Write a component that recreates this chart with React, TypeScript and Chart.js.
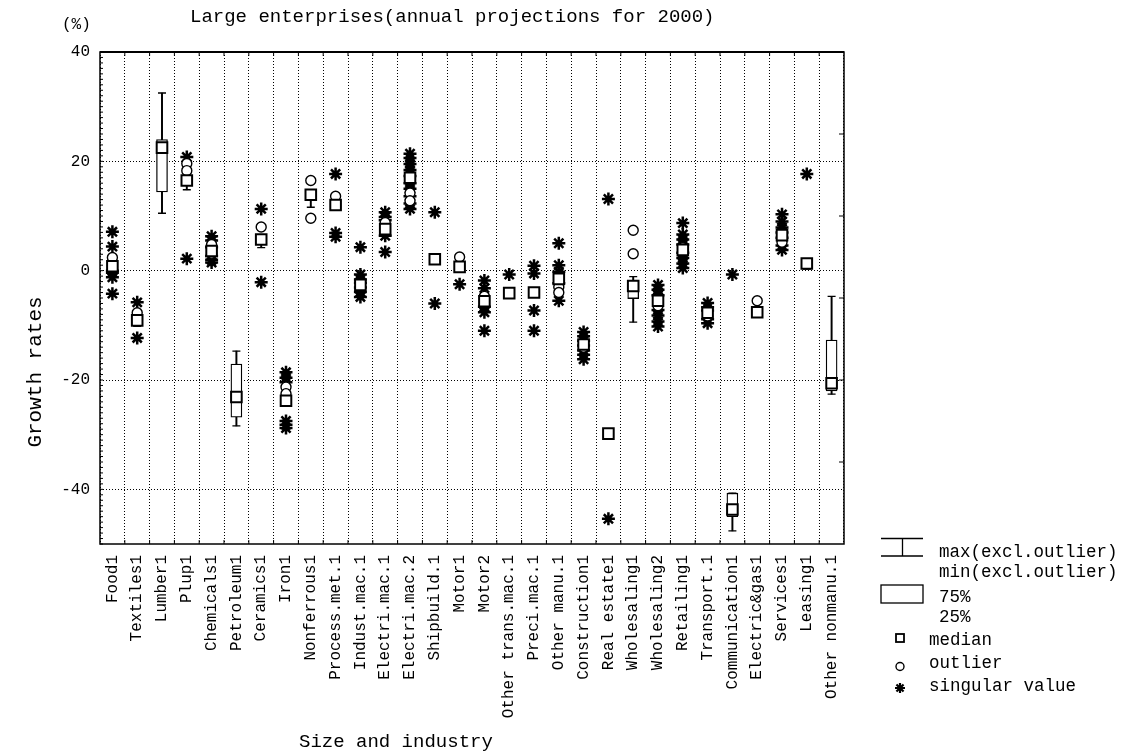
import { useEffect, useRef } from 'react'
import { Chart, registerables } from 'chart.js'

Chart.register(...registerables)

const categories = [
  'Food1', 'Textiles1', 'Lumber1', 'Plup1', 'Chemicals1', 'Petroleum1', 'Ceramics1', 'Iron1',
  'Nonferrous1', 'Process.met.1', 'Indust.mac.1', 'Electri.mac.1', 'Electri.mac.2', 'Shipbuild.1',
  'Motor1', 'Motor2', 'Other trans.mac.1', 'Preci.mac.1', 'Other manu.1', 'Construction1',
  'Real estate1', 'Wholesaling1', 'Wholesaling2', 'Retailing1', 'Transport.1', 'Communication1',
  'Electric&gas1', 'Services1', 'Leasing1', 'Other nonmanu.1',
]

const medians = [
  0.8, -9.1, 22.5, 16.5, 3.6, -23.1, 5.7, -23.8, 13.9, 12.0, -2.6, 7.6, 17.0, 2.1, 0.7,
  -5.6, -4.1, -4.0, -1.5, -13.5, -29.8, -2.8, -5.5, 3.8, -7.7, -43.7, -7.6, 6.5, 1.3, -20.6,
]

// 25% / 75% box edges (null = no box)
const boxLow = [
  null, -9.8, 14.4, 15.8, null, -26.8, 5.0, null, 13.0, 11.2, null, null, null, null, null,
  null, null, null, null, null, null, -5.1, null, null, null, -45.0, null, null, 0.8, -22.0,
]
const boxHigh = [
  null, -8.6, 24.0, 17.2, null, -17.1, 6.4, null, 14.8, 12.8, null, null, null, null, null,
  null, null, null, null, null, null, -1.8, null, null, null, -40.7, null, null, 1.8, -12.7,
]

// min / max excluding outliers
const whiskerLow = [
  null, -10.2, 10.5, 14.8, null, -28.4, 4.2, null, 11.6, null, null, null, null, null, null,
  null, null, null, null, null, null, -9.4, null, null, null, -47.6, null, null, 0.3, -22.6,
]
const whiskerHigh = [
  null, -8.6, 32.5, 17.2, null, -14.7, 6.4, null, 14.8, null, null, null, null, null, null,
  null, null, null, null, null, null, -1.1, null, null, null, -40.7, null, null, 1.8, -4.7,
]

const outliers: number[][] = [
  [2.4], [-7.7], [], [19.6, 18.3], [4.8, 3.2], [], [8.0], [-21.3, -22.5], [16.5, 9.6], [13.6],
  [], [8.8], [14.2, 12.8], [], [2.5], [-4.7], [], [], [-3.0, -4.0], [-14.0],
  [], [7.4, 3.1], [-6.4], [4.2], [-8.3], [], [-5.5], [5.2], [], [],
]

const singulars: number[][] = [
  [7.1, 4.4, 0.0, -0.4, -1.2, -4.2],
  [-5.8, -12.3],
  [],
  [20.8, 2.2],
  [6.3, 5.5, 4.3, 2.7, 2.0, 1.5],
  [],
  [11.3, -2.1],
  [-18.6, -19.6, -20.4, -27.5, -28.2, -28.8],
  [],
  [17.7, 6.9, 6.2],
  [4.3, -0.7, -1.6, -2.2, -3.1, -3.9, -4.8],
  [10.7, 9.8, 9.2, 6.4, 3.4],
  [21.4, 20.6, 19.5, 18.4, 17.3, 16.0, 15.0, 13.6, 12.3, 11.3],
  [10.7, -6.0],
  [-2.5],
  [-1.8, -3.2, -6.6, -7.6, -11.0],
  [-0.7],
  [0.9, -0.5, -7.3, -11.0],
  [5.0, 1.0, -0.2, -2.3, -5.5],
  [-11.2, -12.0, -12.8, -13.7, -14.6, -15.4, -16.2],
  [13.1, -45.4],
  [],
  [-2.6, -3.5, -4.5, -7.2, -8.2, -9.3, -10.2],
  [8.7, 6.6, 5.7, 4.8, 3.3, 2.3, 1.3, 0.5],
  [-5.9, -6.7, -7.3, -8.9, -9.6],
  [-0.7],
  [],
  [10.3, 9.0, 7.9, 7.0, 6.0, 4.6, 3.8],
  [17.7],
  [],
]

const yTickValues = [-40, -20, 0, 20, 40]
const rightTickValues = [-35, -20, -5, 10, 25]

const MONO = '"Liberation Mono", "Courier New", monospace'

const pairs = (lo: (number | null)[], hi: (number | null)[]) =>
  lo.map((v, i) => (v == null || hi[i] == null ? null : [v, hi[i] as number]))

const points = (groups: number[][]) =>
  groups.flatMap((vals, i) => vals.map((v) => ({ x: categories[i], y: v })))

const singlePoints = (vals: (number | null)[]) =>
  vals.flatMap((v, i) => (v == null ? [] : [{ x: categories[i], y: v }]))

const decorPlugin = {
  id: 'decor',
  afterDraw(chart: Chart) {
    const { ctx, chartArea: a } = chart
    const y = chart.scales.y
    const x = chart.scales.x
    ctx.save()
    ctx.strokeStyle = '#000'
    ctx.fillStyle = '#000'

    // frame
    ctx.lineWidth = 1.5
    ctx.strokeRect(a.left, a.top, a.right - a.left, a.bottom - a.top)
    ctx.lineWidth = 2.2
    ctx.beginPath()
    ctx.moveTo(a.left, a.top)
    ctx.lineTo(a.right, a.top)
    ctx.stroke()

    // minor ticks
    ctx.lineWidth = 1
    ctx.beginPath()
    for (let v = -50; v <= 40; v += 1) {
      const py = y.getPixelForValue(v)
      ctx.moveTo(a.left, py)
      ctx.lineTo(a.left + 3, py)
    }
    for (const v of rightTickValues) {
      const py = y.getPixelForValue(v)
      ctx.moveTo(a.right, py)
      ctx.lineTo(a.right - 5, py)
    }
    const step = (a.right - a.left) / categories.length
    for (let i = 1; i < categories.length; i++) {
      const px = x.left + step * i
      ctx.moveTo(px, a.bottom)
      ctx.lineTo(px, a.bottom - 4)
      ctx.moveTo(px, a.top)
      ctx.lineTo(px, a.top + 4)
    }
    ctx.stroke()

    // texts
    ctx.textBaseline = 'middle'
    ctx.textAlign = 'left'
    ctx.font = `19px ${MONO}`
    ctx.fillText('Large enterprises(annual projections for 2000)', 190, 17)
    ctx.font = `16px ${MONO}`
    ctx.fillText('(%)', 62, 25)
    ctx.font = `19px ${MONO}`
    ctx.fillText('Size and industry', 299, 742)
    ctx.save()
    ctx.translate(35, 372)
    ctx.rotate(-Math.PI / 2)
    ctx.textAlign = 'center'
    ctx.font = `21px ${MONO}`
    ctx.fillText('Growth rates', 0, 0)
    ctx.restore()

    // legend
    ctx.lineWidth = 1.3
    ctx.beginPath()
    ctx.moveTo(881, 538.5)
    ctx.lineTo(923, 538.5)
    ctx.moveTo(902.5, 538.5)
    ctx.lineTo(902.5, 556)
    ctx.moveTo(881, 556)
    ctx.lineTo(923, 556)
    ctx.stroke()
    ctx.strokeRect(881, 585, 42, 18)
    ctx.lineWidth = 1.8
    ctx.strokeRect(896, 634, 8, 8)
    ctx.lineWidth = 1.4
    ctx.beginPath()
    ctx.arc(900, 666.5, 4, 0, Math.PI * 2)
    ctx.stroke()
    ctx.lineWidth = 2.2
    ctx.beginPath()
    const r = 5
    for (let k = 0; k < 4; k++) {
      const ang = (k * Math.PI) / 4
      ctx.moveTo(900 - r * Math.cos(ang), 688 - r * Math.sin(ang))
      ctx.lineTo(900 + r * Math.cos(ang), 688 + r * Math.sin(ang))
    }
    ctx.stroke()

    ctx.font = `17.5px ${MONO}`
    ctx.fillText('max(excl.outlier)', 939, 552)
    ctx.fillText('min(excl.outlier)', 939, 572)
    ctx.fillText('75%', 939, 597)
    ctx.fillText('25%', 939, 617)
    ctx.fillText('median', 929, 640)
    ctx.fillText('outlier', 929, 663)
    ctx.fillText('singular value', 929, 686)
    ctx.restore()
  },
}

export default function App() {
  const chartRef = useRef<HTMLCanvasElement>(null)
  const chartInstance = useRef<Chart | null>(null)

  useEffect(() => {
    if (!chartRef.current) return
    if (chartInstance.current) chartInstance.current.destroy()
    const ctx = chartRef.current.getContext('2d')
    if (!ctx) return

    chartInstance.current = new Chart(ctx, {
      type: 'bar',
      data: {
        labels: categories,
        datasets: [
          {
            type: 'bar',
            label: 'whisker',
            data: pairs(whiskerLow, whiskerHigh) as any,
            backgroundColor: '#000',
            borderWidth: 0,
            barThickness: 1.3,
            grouped: false,
            order: 6,
          } as any,
          {
            type: 'bar',
            label: 'box',
            data: pairs(boxLow, boxHigh) as any,
            backgroundColor: '#fff',
            borderColor: '#000',
            borderWidth: 1.3,
            borderSkipped: false,
            barThickness: 11,
            grouped: false,
            order: 5,
          } as any,
          {
            type: 'line',
            label: 'caps',
            data: [...singlePoints(whiskerLow), ...singlePoints(whiskerHigh)] as any,
            showLine: false,
            pointStyle: 'line',
            pointRadius: 4,
            borderColor: '#000',
            borderWidth: 1.3,
            order: 4,
          },
          {
            type: 'line',
            label: 'singular value',
            data: points(singulars) as any,
            showLine: false,
            pointStyle: 'star',
            pointRadius: 6.5,
            borderColor: '#000',
            borderWidth: 2.5,
            order: 3,
          },
          {
            type: 'line',
            label: 'outlier',
            data: points(outliers) as any,
            showLine: false,
            pointStyle: 'circle',
            pointRadius: 5,
            pointBackgroundColor: '#fff',
            borderColor: '#000',
            borderWidth: 1.4,
            order: 2,
          },
          {
            type: 'line',
            label: 'median',
            data: singlePoints(medians) as any,
            showLine: false,
            pointStyle: 'rect',
            pointRadius: 7.5,
            pointBackgroundColor: '#fff',
            borderColor: '#000',
            borderWidth: 2,
            order: 1,
          },
        ],
      },
      options: {
        responsive: true,
        maintainAspectRatio: false,
        animation: false,
        events: [],
        layout: { padding: { left: 0, top: 52, right: 284, bottom: 0 } },
        plugins: {
          legend: { display: false },
          tooltip: { enabled: false },
          title: { display: false },
        },
        scales: {
          x: {
            type: 'category',
            offset: true,
            afterFit: (scale: any) => {
              scale.height = 209
            },
            grid: {
              offset: true,
              drawTicks: false,
              color: '#000',
              lineWidth: 1,
            },
            border: { display: false, dash: [1, 2] },
            ticks: {
              autoSkip: false,
              minRotation: 90,
              maxRotation: 90,
              padding: 11,
              color: '#000',
              font: { family: MONO, size: 16 },
            },
          },
          y: {
            min: -50,
            max: 40,
            afterFit: (scale: any) => {
              scale.width = 100
            },
            afterBuildTicks: (scale: any) => {
              scale.ticks = yTickValues.map((v) => ({ value: v }))
            },
            grid: {
              drawTicks: false,
              color: '#000',
              lineWidth: 1,
            },
            border: { display: false, dash: [1, 2] },
            ticks: {
              padding: 10,
              color: '#000',
              font: { family: MONO, size: 16 },
            },
          },
        },
      },
      plugins: [decorPlugin],
    })

    return () => {
      if (chartInstance.current) {
        chartInstance.current.destroy()
        chartInstance.current = null
      }
    }
  }, [])

  return (
    <div style={{ position: 'absolute', left: 0, top: 0, width: 1128, height: 753, background: '#fff' }}>
      <canvas ref={chartRef}></canvas>
    </div>
  )
}
